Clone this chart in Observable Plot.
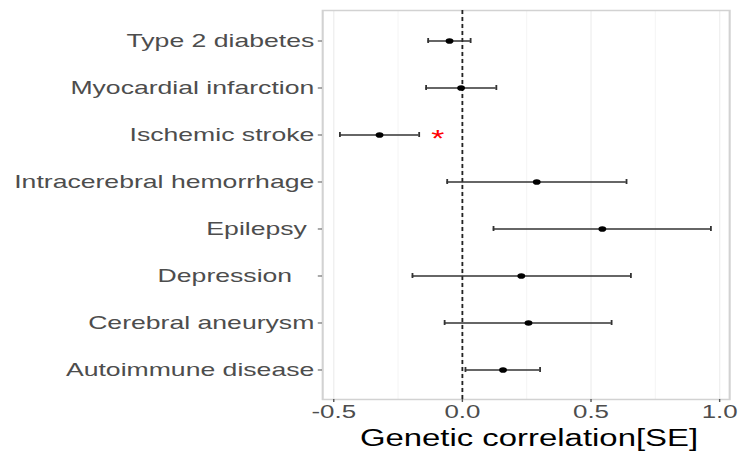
<!DOCTYPE html>
<html><head><meta charset="utf-8">
<script src="https://cdn.jsdelivr.net/npm/d3@7"></script>
<script src="https://cdn.jsdelivr.net/npm/@observablehq/plot@0.6"></script>
<style>
html,body{margin:0;padding:0;background:#fff;overflow:hidden;}
#chart{width:739px;height:457px;overflow:hidden;}
#chart svg{transform:scaleX(1.4);transform-origin:0 0;display:block;}
</style></head><body><div id="chart"></div>
<script>
const traits = ["Type 2 diabetes","Myocardial infarction","Ischemic stroke","Intracerebral hemorrhage","Epilepsy ","Depression   ","Cerebral aneurysm","Autoimmune disease"];
const rg    = [-0.050, -0.005, -0.322, 0.289, 0.544, 0.229, 0.257, 0.158];
const lower = [-0.133, -0.141, -0.476, -0.059, 0.121, -0.194, -0.069, 0.012];
const upper = [ 0.032,  0.132, -0.168, 0.638, 0.966, 0.655, 0.580, 0.302];
const xTicks = [-0.5, 0.0, 0.5, 1.0];
const xMinor = [-0.25, 0.25, 0.75];
const sigTraits = ["Ischemic stroke"];
const sigX = [-0.096];
const sigLabel = "*";
const xTitle = "Genetic correlation[SE]";

const S = 1.4;
const data = traits.map((t, i) => ({trait: t, rg: rg[i], lo: lower[i], hi: upper[i]}));
const sig = sigTraits.map((t, i) => ({trait: t, x: sigX[i]}));
const fmtY = d => d.replace(/ +$/, m => "\u00a0".repeat(m.length));

const plot = Plot.plot({
  width: 739 / S, height: 457,
  marginLeft: 322 / S, marginRight: 10 / S, marginTop: 10, marginBottom: 58,
  style: {fontFamily: "'Liberation Sans', Arial, Helvetica, sans-serif", background: "#fff", overflow: "visible"},
  x: {domain: [-0.543, 1.039], label: null},
  y: {type: "band", domain: traits, paddingInner: 0.9, paddingOuter: 0.52, label: null},
  marks: [
    Plot.gridX(xTicks, {stroke: "#f0f0f0", strokeOpacity: 1, strokeWidth: 1}),
    Plot.gridX(xMinor, {stroke: "#f5f5f5", strokeOpacity: 1, strokeWidth: 0.8}),
    Plot.frame({stroke: "#d2d2d2", strokeWidth: 1.5}),
    Plot.ruleX([0], {stroke: "#222", strokeWidth: 1.3, strokeDasharray: "4,3"}),
    Plot.ruleY(data, {y: "trait", x1: "lo", x2: "hi", stroke: "#333", strokeWidth: 1.7}),
    Plot.tickX(data, {x: "lo", y: "trait", stroke: "#333", strokeWidth: 1.3}),
    Plot.tickX(data, {x: "hi", y: "trait", stroke: "#333", strokeWidth: 1.3}),
    Plot.dot(data, {x: "rg", y: "trait", r: 2.8, fill: "#000", stroke: "none"}),
    Plot.text(sig, {x: "x", y: "trait", text: () => sigLabel, fill: "#f00", fontSize: 24, dy: 4.5}),
    Plot.axisX({ticks: xTicks, tickFormat: d => d.toFixed(1), tickSize: 3, tickPadding: 2, fontSize: 18.5, color: "#4d4d4d", stroke: "#555", label: null}),
    Plot.axisY({tickFormat: fmtY, tickSize: 3, tickPadding: 3, fontSize: 19, color: "#4d4d4d", stroke: "#555", label: null}),
    Plot.text([xTitle], {text: d => d, frameAnchor: "bottom", dy: 39, dx: 2, lineAnchor: "middle", fontSize: 23.5, fill: "#000"})
  ]
});
document.getElementById("chart").appendChild(plot);
</script>
</body></html>
